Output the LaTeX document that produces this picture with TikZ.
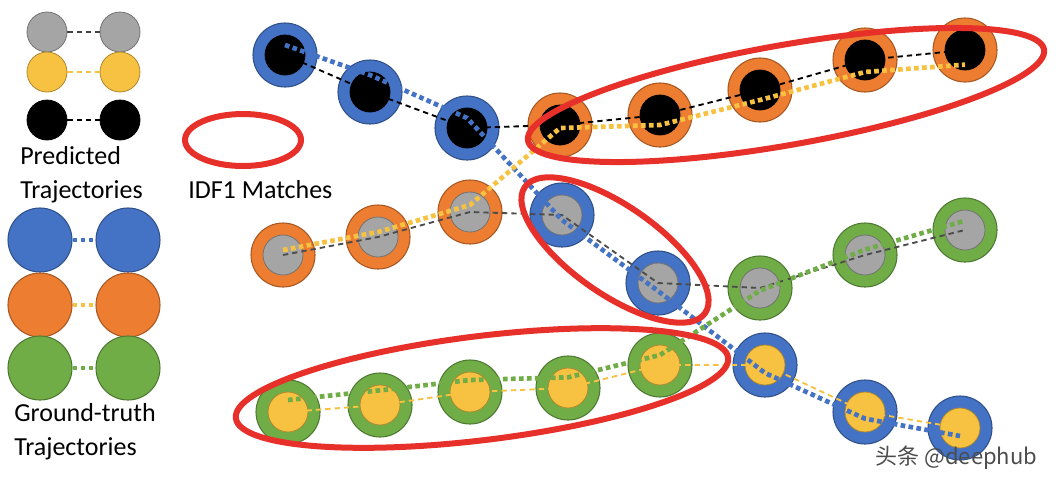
\documentclass[tikz,border=0pt]{standalone}
\usepackage{fontspec}
\setmainfont{Carlito}
\newfontfamily\cjk{Noto Sans CJK SC}
\begin{document}
\begin{tikzpicture}[x=0.75pt,y=-0.75pt]
\definecolor{cb}{HTML}{4472C4}\definecolor{co}{HTML}{ED7D31}\definecolor{cg}{HTML}{70AD47}
\definecolor{cgr}{HTML}{A5A5A5}\definecolor{cy}{HTML}{F7C242}\definecolor{cr}{HTML}{E8302A}
\tikzset{
 big/.style={circle,draw=#1!70!black,fill=#1,minimum size=64*0.75pt,inner sep=0,line width=0.8pt},
 small/.style={circle,draw=#1!70!black,fill=#1,minimum size=40*0.75pt,inner sep=0,line width=0.6pt},
 pdash/.style={draw=#1,dash pattern=on 4pt off 3pt,line width=1.4pt},
 gdot/.style={draw=#1,dash pattern=on 3.5pt off 2.5pt,line width=3.5pt},
 red/.style={draw=cr,line width=4.5pt},
 lab/.style={font=\fontsize{19.5}{25.5}\selectfont,align=left,inner sep=0}
}
\useasboundingbox (0,0) rectangle (1056,486);
% legend
\node[small=cgr] (l1a) at (47,32){}; \node[small=cgr] (l1b) at (120,32){};
\node[small=cy] (l2a) at (47,72){}; \node[small=cy] (l2b) at (120,72){};
\node[small=black] (l3a) at (47,120){}; \node[small=black] (l3b) at (120,120){};
\draw[pdash=black!75] (l1a)--(l1b); \draw[pdash=cy] (l2a)--(l2b); \draw[pdash=black] (l3a)--(l3b);
\node[lab,anchor=north west] (pt) at (20,146){Predicted\\Trajectories};
\node[big=cb] (g1a) at (40,240){}; \node[big=cb] (g1b) at (128,240){};
\node[big=co] (g2a) at (40,305){}; \node[big=co] (g2b) at (128,305){};
\node[big=cg] (g3a) at (40,368){}; \node[big=cg] (g3b) at (128,368){};
\draw[gdot=cb] (g1a)--(g1b); \draw[gdot=cy] (g2a)--(g2b); \draw[gdot=cg] (g3a)--(g3b);
\node[lab,anchor=north west] (gt) at (14,403){Ground-truth\\Trajectories};
\draw[red] (243,140) ellipse [x radius=58, y radius=26];
\node[lab,anchor=west] (idf) at (188,190){IDF1 Matches};
% track 1
\foreach \n/\c/\x/\y in {a/cb/285/55,b/cb/370/92,c/cb/467/128,d/co/560/125,e/co/660/115,f/co/760/90,g/co/865/60,h/co/965/50}{
 \node[big=\c] (A\n) at (\x,\y){}; \node[small=black] (a\n) at (\x,\y){};}
% track 2
\foreach \n/\c/\x/\y in {a/co/283/255,b/co/378/237,c/co/470/212,d/cb/562/215,e/cb/658/283,f/cg/760/288,g/cg/865/255,h/cg/965/230}{
 \node[big=\c] (B\n) at (\x,\y){}; \node[small=cgr] (b\n) at (\x,\y){};}
% track 3
\foreach \n/\c/\x/\y in {a/cg/288/412,b/cg/380/405,c/cg/470/392,d/cg/568/388,e/cg/660/365,f/cb/765/365,g/cb/865/412,h/cb/960/428}{
 \node[big=\c] (C\n) at (\x,\y){}; \node[small=cy] (c\n) at (\x,\y){};}
% predicted lines
\draw[pdash=black] (aa.center)--(ab.center)--(ac.center)--(ad.center)--(ae.center)--(af.center)--(ag.center)--(ah.center);
\draw[pdash=black!70] (ba.center)--(bb.center)--(bc.center)--(bd.center)--(be.center)--(bf.center)--(bg.center)--(bh.center);
\draw[pdash=cy] (ca.center)--(cb.center)--(cc.center)--(cd.center)--(ce.center)--(cf.center)--(cg.center)--(ch.center);
% ground truth lines
\draw[gdot=cb] ([yshift=7.5]Aa.center)--([yshift=12.75]Ab.center)--([yshift=7.5]Ac.center)--([yshift=-3.75]Bd.center)--([yshift=-6]Be.center)--([yshift=-6]Cf.center)--([yshift=-5]Cg.center)--([yshift=-6]Ch.center);
\draw[gdot=cy] ([yshift=3.75]Ba.center)--([yshift=3.75]Bb.center)--([yshift=5.25]Bc.center)--([yshift=-2.25]Ad.center)--([yshift=-7.5]Ae.center)--([yshift=-7.5]Af.center)--([yshift=-9]Ag.center)--([yshift=-11]Ah.center);
\draw[gdot=cg] ([yshift=9]Ca.center)--([yshift=11]Cb.center)--([yshift=9]Cc.center)--([yshift=8]Cd.center)--([yshift=7.5]Ce.center)--([yshift=-2]Bf.center)--([yshift=4]Bg.center)--([yshift=7]Bh.center);
% matches
\draw[red,rotate around={10:(786,95)}] (786,95) ellipse [x radius=262, y radius=50];
\draw[red,rotate around={-35:(615,250)}] (615,250) ellipse [x radius=110, y radius=44];
\draw[red,rotate around={7:(482,388)}] (482,388) ellipse [x radius=248, y radius=52];
\node[font=\cjk\fontsize{16.5}{20}\selectfont,text=black!70,anchor=east] (wm) at (1042,458){头条 @deephub};
\end{tikzpicture}
\end{document}
